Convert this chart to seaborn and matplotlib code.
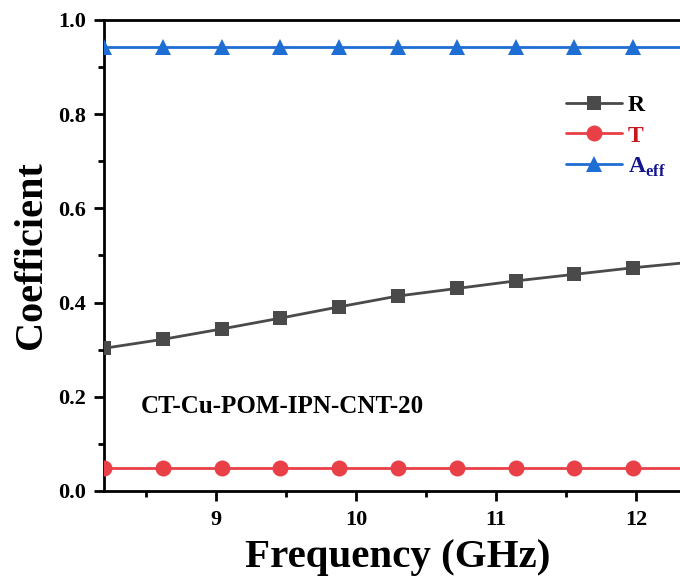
import numpy as np
import pandas as pd
import matplotlib
matplotlib.use("Agg")
import matplotlib.pyplot as plt
import seaborn as sns
from matplotlib.ticker import MultipleLocator, FormatStrFormatter

# Frequency sweep (GHz) and measured coefficients
freq = [8.20, 8.62, 9.04, 9.46, 9.88, 10.30, 10.72, 11.14, 11.56, 11.98, 12.40]
R = [0.303, 0.322, 0.344, 0.367, 0.391, 0.414, 0.430, 0.446, 0.460, 0.474, 0.486]
T = [0.049, 0.049, 0.049, 0.049, 0.049, 0.049, 0.049, 0.049, 0.049, 0.049, 0.049]
A_eff = [0.942, 0.942, 0.942, 0.942, 0.942, 0.942, 0.942, 0.942, 0.942, 0.942, 0.942]

sample_name = "CT-Cu-POM-IPN-CNT-20"

sns.set_theme(style="ticks")
plt.rcParams["font.family"] = ["Liberation Serif", "DejaVu Serif"]
plt.rcParams["font.weight"] = "bold"
plt.rcParams["text.color"] = "black"
plt.rcParams["axes.labelcolor"] = "black"
plt.rcParams["xtick.color"] = "black"
plt.rcParams["ytick.color"] = "black"
plt.rcParams["mathtext.fontset"] = "custom"
plt.rcParams["mathtext.rm"] = "Liberation Serif:bold"
plt.rcParams["mathtext.bf"] = "Liberation Serif:bold"

fig = plt.figure(figsize=(6.8, 5.81), dpi=100)
# axes run slightly past the right edge of the figure
ax = fig.add_axes([104 / 680, 90 / 581, 588 / 680, 471 / 581])

df = pd.DataFrame({"freq": freq, "R": R, "T": T, "A": A_eff})

series = [
    ("R", "R", "#4a4a4a", "s", 9.5),
    ("T", "T", "#e84046", "o", 11.5),
    ("A", r"A$_{\mathbf{eff}}$", "#1f6ed4", "^", 12),
]
for col, label, color, marker, ms in series:
    sns.lineplot(data=df, x="freq", y=col, ax=ax, color=color, marker=marker,
                 markersize=ms, markeredgewidth=0, linewidth=2.0, label=label,
                 zorder=3)

ax.set_xlim(8.2, 12.4)
ax.set_ylim(0.0, 1.0)
ax.xaxis.set_major_locator(MultipleLocator(1))
ax.xaxis.set_minor_locator(MultipleLocator(0.5))
ax.yaxis.set_major_locator(MultipleLocator(0.2))
ax.yaxis.set_minor_locator(MultipleLocator(0.1))
ax.yaxis.set_major_formatter(FormatStrFormatter("%.1f"))

for side in ["left", "bottom", "top", "right"]:
    ax.spines[side].set_linewidth(2.0)
    ax.spines[side].set_color("black")

ax.tick_params(which="major", direction="out", length=7, width=2, labelsize=16,
               pad=6, colors="black", top=False, right=False)
ax.tick_params(axis="x", which="major", pad=7)
ax.tick_params(which="minor", direction="out", length=4, width=2,
               colors="black", top=False, right=False)
for lab in ax.get_xticklabels() + ax.get_yticklabels():
    lab.set_fontweight("bold")

ax.set_xlabel("Frequency (GHz)", fontsize=29.5, fontweight="bold", labelpad=6,
              color="black")
ax.set_ylabel("Coefficient", fontsize=29, fontweight="bold", labelpad=6,
              color="black")

ax.text(8.46, 0.18, sample_name, fontsize=18, fontweight="bold",
        va="center", ha="left", color="black")

leg = ax.legend(loc="upper left", bbox_to_anchor=(549 / 680, 1 - 78 / 581),
                bbox_transform=fig.transFigure, frameon=False, fontsize=17,
                handlelength=2.4, handletextpad=0.25, labelspacing=0.38,
                borderpad=0.2)
text_colors = ["black", "#c8181c", "#141490"]
for t, c in zip(leg.get_texts(), text_colors):
    t.set_color(c)
    t.set_fontweight("bold")

fig.savefig("out.png", dpi=100)
